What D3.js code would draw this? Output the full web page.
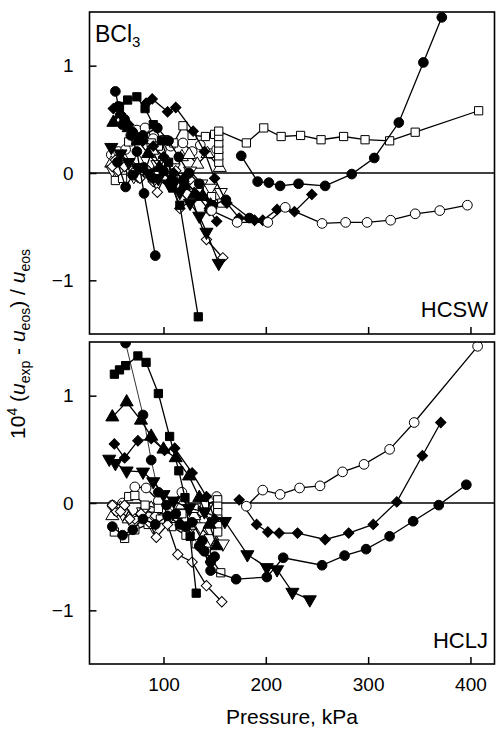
<!DOCTYPE html>
<html><head><meta charset="utf-8">
<script src="https://cdn.jsdelivr.net/npm/d3@7"></script>
<style>html,body{margin:0;padding:0;background:#fff;}svg{display:block;font-family:"Liberation Sans",Arial,sans-serif;}</style>
</head><body>
<script>
// ---------- DATA (pressure kPa, 10^4 deviation) ----------
const xTicks = [100, 200, 300, 400];
const yTicks = [-1, 0, 1];

// Top panel (HCSW)
const t_fcLong = [[176,0.16],[192,-0.08],[203,-0.09],[214,-0.12],[232,-0.10],[258,-0.12],[284,-0.01],[306,0.14],[330,0.47],[354,1.03],[372,1.45]];
const t_osLong = [[154,0.10],[154,0.16],[154,0.22],[154,0.28],[154,0.34],[154,0.39],[181,0.28],[198,0.42],[215,0.34],[234,0.35],[254,0.31],[276,0.34],[297,0.31],[321,0.30],[346,0.38],[408,0.58]];
const t_ocLong = [[147,-0.35],[172,-0.46],[202,-0.46],[219,-0.32],[255,-0.47],[278,-0.46],[299,-0.46],[322,-0.44],[346,-0.38],[370,-0.35],[397,-0.30]];
const t_fdLong = [[83,0.65],[89,0.69],[104,0.57],[112,0.61],[129,0.39],[140,0.20],[150,-0.05],[162,-0.28],[174,-0.42],[189,-0.44],[197,-0.44],[211,-0.34],[228,-0.36],[245,-0.20]];
const t_fdShort = [[51,0.60],[58,0.55],[66,0.45],[73,0.35],[80,0.30],[90,0.25],[100,0.15],[110,0.00],[120,-0.05],[132,-0.20],[145,-0.35],[152,-0.45]];
const t_fcShort = [[53,0.76],[56,0.62],[62,0.50],[68,0.35],[74,0.20],[81,-0.19],[92,-0.77]];
const t_fc3 = [[60,0.45],[70,0.38],[80,0.35],[94,0.42],[105,0.30],[115,0.15],[125,0.00],[135,-0.10],[148,-0.30],[161,-0.25],[184,-0.42]];
const t_fc4 = [[55,0.10],[63,-0.13],[70,-0.02],[80,0.05],[90,-0.05],[100,0.02],[110,-0.08],[120,-0.06]];
const t_fs = [[57,0.62],[65,0.68],[74,0.71],[82,0.60],[90,0.45],[98,0.30],[105,0.10],[109,-0.14],[116,-0.30],[134,-1.34]];
const t_ft = [[51,0.47],[58,0.55],[66,0.42],[75,0.30],[85,0.18],[96,0.05],[108,-0.05],[120,-0.12],[130,-0.20],[138,-0.22],[146,-0.30]];
const t_fit = [[49,0.24],[58,0.18],[66,0.10],[75,0.05],[85,0.00],[95,-0.05],[105,-0.10],[116,-0.18],[126,-0.28],[135,-0.40],[142,-0.55],[154,-0.84]];
const t_ot = [[49,0.09],[55,0.10],[60,0.15],[68,0.05],[75,0.12],[82,0.02],[89,0.21],[96,0.08],[104,0.10],[112,0.02],[118,0.15],[125,0.17],[133,0.08],[143,0.18],[155,0.05]];
const t_oit = [[50,0.03],[57,-0.02],[64,0.04],[71,-0.03],[78,0.05],[86,0.00],[94,0.08],[102,-0.02],[110,0.05],[118,-0.04],[126,0.02],[137,-0.10],[146,-0.14],[156,-0.18]];
const t_ocShort = [[49,0.17],[56,0.20],[63,0.22],[74,0.40],[82,0.42],[90,0.32],[98,0.22],[107,0.25],[119,0.28],[128,0.20],[136,0.26],[146,0.18],[152,0.22]];
const t_od1 = [[50,0.06],[56,0.02],[62,0.06],[70,0.00],[77,-0.05],[84,0.03],[94,-0.18],[100,-0.05],[108,-0.10],[116,-0.33],[128,-0.25],[142,-0.62],[158,-0.79]];
const t_od2 = [[53,0.12],[60,0.00],[68,0.08],[75,-0.04],[82,0.05],[90,-0.08],[98,0.00],[105,-0.05],[112,0.02],[120,-0.08],[130,-0.12]];
const t_os1 = [[66,0.29],[73,0.30],[80,0.31],[88,0.28],[95,0.25],[101,0.31],[110,0.28],[119,0.44],[128,0.35],[141,0.34],[150,0.36]];
const t_os2 = [[53,-0.07],[60,-0.05],[68,0.02],[76,-0.03],[85,0.00],[95,-0.02],[108,-0.06],[120,-0.10],[135,-0.18],[147,-0.22],[157,-0.28]];

// Bottom panel (HCLJ)
const b_ocLong = [[181,-0.03],[197,0.12],[214,0.08],[233,0.14],[253,0.16],[275,0.29],[296,0.36],[321,0.50],[345,0.75],[407,1.46]];
const b_fdLong = [[174,0.03],[191,-0.20],[202,-0.27],[213,-0.28],[231,-0.28],[258,-0.34],[281,-0.28],[305,-0.20],[328,0.01],[353,0.44],[371,0.75]];
const b_fcLong = [[140,-0.45],[146,-0.63],[171,-0.71],[201,-0.69],[217,-0.51],[255,-0.58],[277,-0.49],[298,-0.43],[321,-0.31],[344,-0.17],[369,-0.02],[396,0.17]];
const b_fitLong = [[47,0.41],[53,0.37],[64,0.30],[80,0.29],[90,0.20],[100,0.08],[110,0.02],[125,-0.05],[140,-0.08],[160,-0.17],[182,-0.48],[201,-0.60],[211,-0.62],[226,-0.83],[243,-0.90]];
const b_fs = [[52,1.20],[57,1.24],[63,1.28],[75,1.37],[83,1.31],[95,1.02],[106,0.62],[115,0.30],[121,0.05],[126,-0.31],[132,-0.84]];
const b_fcThin = [[63,1.49],[80,0.82],[88,0.40],[95,0.10],[103,-0.02],[112,-0.10],[122,-0.22],[135,-0.40]];
const b_ft = [[50,0.80],[64,0.94],[78,0.77],[88,0.62],[100,0.50],[112,0.42],[125,0.25],[135,0.05],[145,-0.20],[152,-0.40]];
const b_fd = [[52,0.55],[62,0.42],[75,0.58],[88,0.60],[101,0.49],[111,0.51],[128,0.28],[142,0.06],[150,-0.15]];
const b_fc3 = [[50,-0.22],[60,-0.30],[70,-0.25],[80,-0.15],[92,-0.20],[104,-0.12],[116,-0.20],[128,-0.18],[138,-0.35],[146,-0.55],[150,-0.50]];
const b_oc = [[50,-0.02],[60,0.00],[72,0.15],[83,0.14],[95,0.02],[106,-0.03],[118,0.10],[128,-0.05],[140,-0.16],[152,0.06]];
const b_os1 = [[52,-0.27],[62,-0.33],[72,-0.25],[85,-0.20],[97,-0.15],[108,-0.22],[122,-0.30],[132,-0.38],[142,-0.45],[156,-0.65]];
const b_os2 = [[66,0.06],[72,0.07],[82,-0.02],[95,-0.05],[106,-0.05],[118,-0.10],[130,-0.05],[140,-0.02],[153,0.03],[153,-0.03],[153,-0.09],[153,-0.15],[153,-0.21],[153,-0.27]];
const b_od1 = [[50,-0.02],[58,-0.08],[67,-0.15],[78,-0.10],[86,-0.18],[93,-0.32],[104,-0.20],[114,-0.48],[128,-0.55],[142,-0.77],[157,-0.92]];
const b_od2 = [[54,-0.08],[62,-0.02],[72,-0.15],[82,-0.05],[92,-0.12],[102,-0.08],[112,-0.18],[125,-0.28],[136,-0.42],[146,-0.55]];
const b_ot = [[50,-0.12],[58,-0.05],[66,-0.15],[76,-0.12],[88,-0.05],[98,-0.15],[108,-0.10],[118,-0.02],[130,-0.12],[140,-0.30],[152,-0.38]];
const b_oit = [[52,-0.05],[60,-0.10],[70,-0.20],[80,-0.08],[90,-0.22],[100,-0.12],[112,-0.18],[124,-0.28],[136,-0.22],[146,-0.33],[158,-0.38]];

// ---------- LAYOUT ----------
const W = 496, H = 730;
const L = 89.5, R = 494.5;
const panels = [
  {top: 12, bottom: 334, label: "HCSW", labelY: 317,
   series: [
     [t_ocShort,'circle',false],[t_os1,'square',false],[t_ot,'triangle',false],[t_oit,'itriangle',false],
     [t_od2,'diamond',false],[t_os2,'square',false],[t_od1,'diamond',false],
     [t_fc4,'circle',true],[t_fc3,'circle',true],[t_ft,'triangle',true],[t_fit,'itriangle',true],
     [t_fdShort,'diamond',true],[t_fs,'square',true],[t_fcShort,'circle',true],[t_fdLong,'diamond',true],
     [t_osLong,'square',false],[t_ocLong,'circle',false],[t_fcLong,'circle',true]
   ]},
  {top: 342, bottom: 664, label: "HCLJ", labelY: 648,
   series: [
     [b_oc,'circle',false],[b_ot,'triangle',false],[b_oit,'itriangle',false],[b_od2,'diamond',false],
     [b_os2,'square',false],[b_os1,'square',false],[b_od1,'diamond',false],[b_fc3,'circle',true],
     [b_fcThin,'circle',true,0.8],[b_fd,'diamond',true],[b_ft,'triangle',true],[b_fs,'square',true],
     [b_fitLong,'itriangle',true],[b_fcLong,'circle',true],[b_fdLong,'diamond',true],[b_ocLong,'circle',false]
   ]}
];

const svg = d3.select("body").append("svg").attr("width", W).attr("height", H);
const x = d3.scaleLinear().domain([27.7, 423.5]).range([L, R]);

const symGen = {
  circle: d3.symbol().type(d3.symbolCircle).size(74)(),
  square: d3.symbol().type(d3.symbolSquare).size(68)(),
  diamond: d3.symbol().type(d3.symbolSquare).size(54)(),
  triangle: d3.symbol().type(d3.symbolTriangle).size(74)(),
  itriangle: d3.symbol().type(d3.symbolTriangle).size(74)()
};
const rot = {circle:0, square:0, diamond:45, triangle:0, itriangle:180};

panels.forEach((pn, i) => {
  const y = d3.scaleLinear().domain([-1.5, 1.5]).range([pn.bottom, pn.top]);
  const g = svg.append("g");
  const clipId = "clip" + i;
  svg.append("clipPath").attr("id", clipId).append("rect")
    .attr("x", L).attr("y", pn.top).attr("width", R - L).attr("height", pn.bottom - pn.top);

  g.append("line").attr("x1", L).attr("x2", R).attr("y1", y(0)).attr("y2", y(0))
    .attr("stroke", "#000").attr("stroke-width", 1.6);

  const data = g.append("g").attr("clip-path", `url(#${clipId})`);
  const line = d3.line().x(d => x(d[0])).y(d => y(d[1]));
  pn.series.forEach(([arr, sym, filled, lw]) => {
    const sg = data.append("g");
    sg.append("path").attr("d", line(arr)).attr("fill", "none")
      .attr("stroke", "#000").attr("stroke-width", lw || 1.3);
    sg.selectAll("path.m").data(arr).enter().append("path").attr("class", "m")
      .attr("d", symGen[sym])
      .attr("transform", d => `translate(${x(d[0])},${y(d[1])}) rotate(${rot[sym]})`)
      .attr("fill", filled ? "#000" : "#fff").attr("stroke", "#000").attr("stroke-width", 1);
  });

  g.append("rect").attr("x", L).attr("y", pn.top).attr("width", R - L).attr("height", pn.bottom - pn.top)
    .attr("fill", "none").attr("stroke", "#000").attr("stroke-width", 1.6);

  const ya = d3.axisLeft(y).tickValues(yTicks).tickSize(-7).tickPadding(16).tickFormat(d3.format("d"));
  const yg = g.append("g").attr("transform", `translate(${L},0)`).call(ya);
  yg.select(".domain").remove();
  yg.selectAll("line").attr("stroke-width", 1.5);
  yg.selectAll("text").attr("font-size", 19).attr("font-family", '"Liberation Sans",Arial,sans-serif').attr("fill", "#000");

  const xa = d3.axisBottom(x).tickValues(xTicks).tickSize(-7).tickPadding(14);
  const xg = g.append("g").attr("transform", `translate(0,${pn.bottom})`).call(xa);
  xg.select(".domain").remove();
  xg.selectAll("line").attr("stroke-width", 1.5);
  if (i === 0) xg.selectAll("text").remove();
  else xg.selectAll("text").attr("font-size", 19).attr("font-family", '"Liberation Sans",Arial,sans-serif').attr("fill", "#000");

  g.append("text").attr("x", 488).attr("y", pn.labelY).attr("text-anchor", "end")
    .attr("font-size", 22).text(pn.label);
});

const bt = svg.append("text").attr("x", 95).attr("y", 42).attr("font-size", 23);
bt.append("tspan").text("BCl");
bt.append("tspan").attr("font-size", 15).attr("dy", 5).text("3");

svg.append("text").attr("x", 292).attr("y", 724).attr("text-anchor", "middle")
  .attr("font-size", 21).text("Pressure, kPa");

const yt = svg.append("text").attr("transform", "translate(25,344) rotate(-90)")
  .attr("text-anchor", "middle").attr("font-size", 21);
yt.append("tspan").text("10");
yt.append("tspan").attr("font-size", 14).attr("dy", -8).text("4");
yt.append("tspan").attr("dy", 8).text(" (");
yt.append("tspan").attr("font-style", "italic").text("u");
yt.append("tspan").attr("font-size", 14).attr("dy", 5).text("exp");
yt.append("tspan").attr("dy", -5).text(" - ");
yt.append("tspan").attr("font-style", "italic").text("u");
yt.append("tspan").attr("font-size", 14).attr("dy", 5).text("eos");
yt.append("tspan").attr("dy", -5).text(") / ");
yt.append("tspan").attr("font-style", "italic").text("u");
yt.append("tspan").attr("font-size", 14).attr("dy", 5).text("eos");
</script>
</body></html>
